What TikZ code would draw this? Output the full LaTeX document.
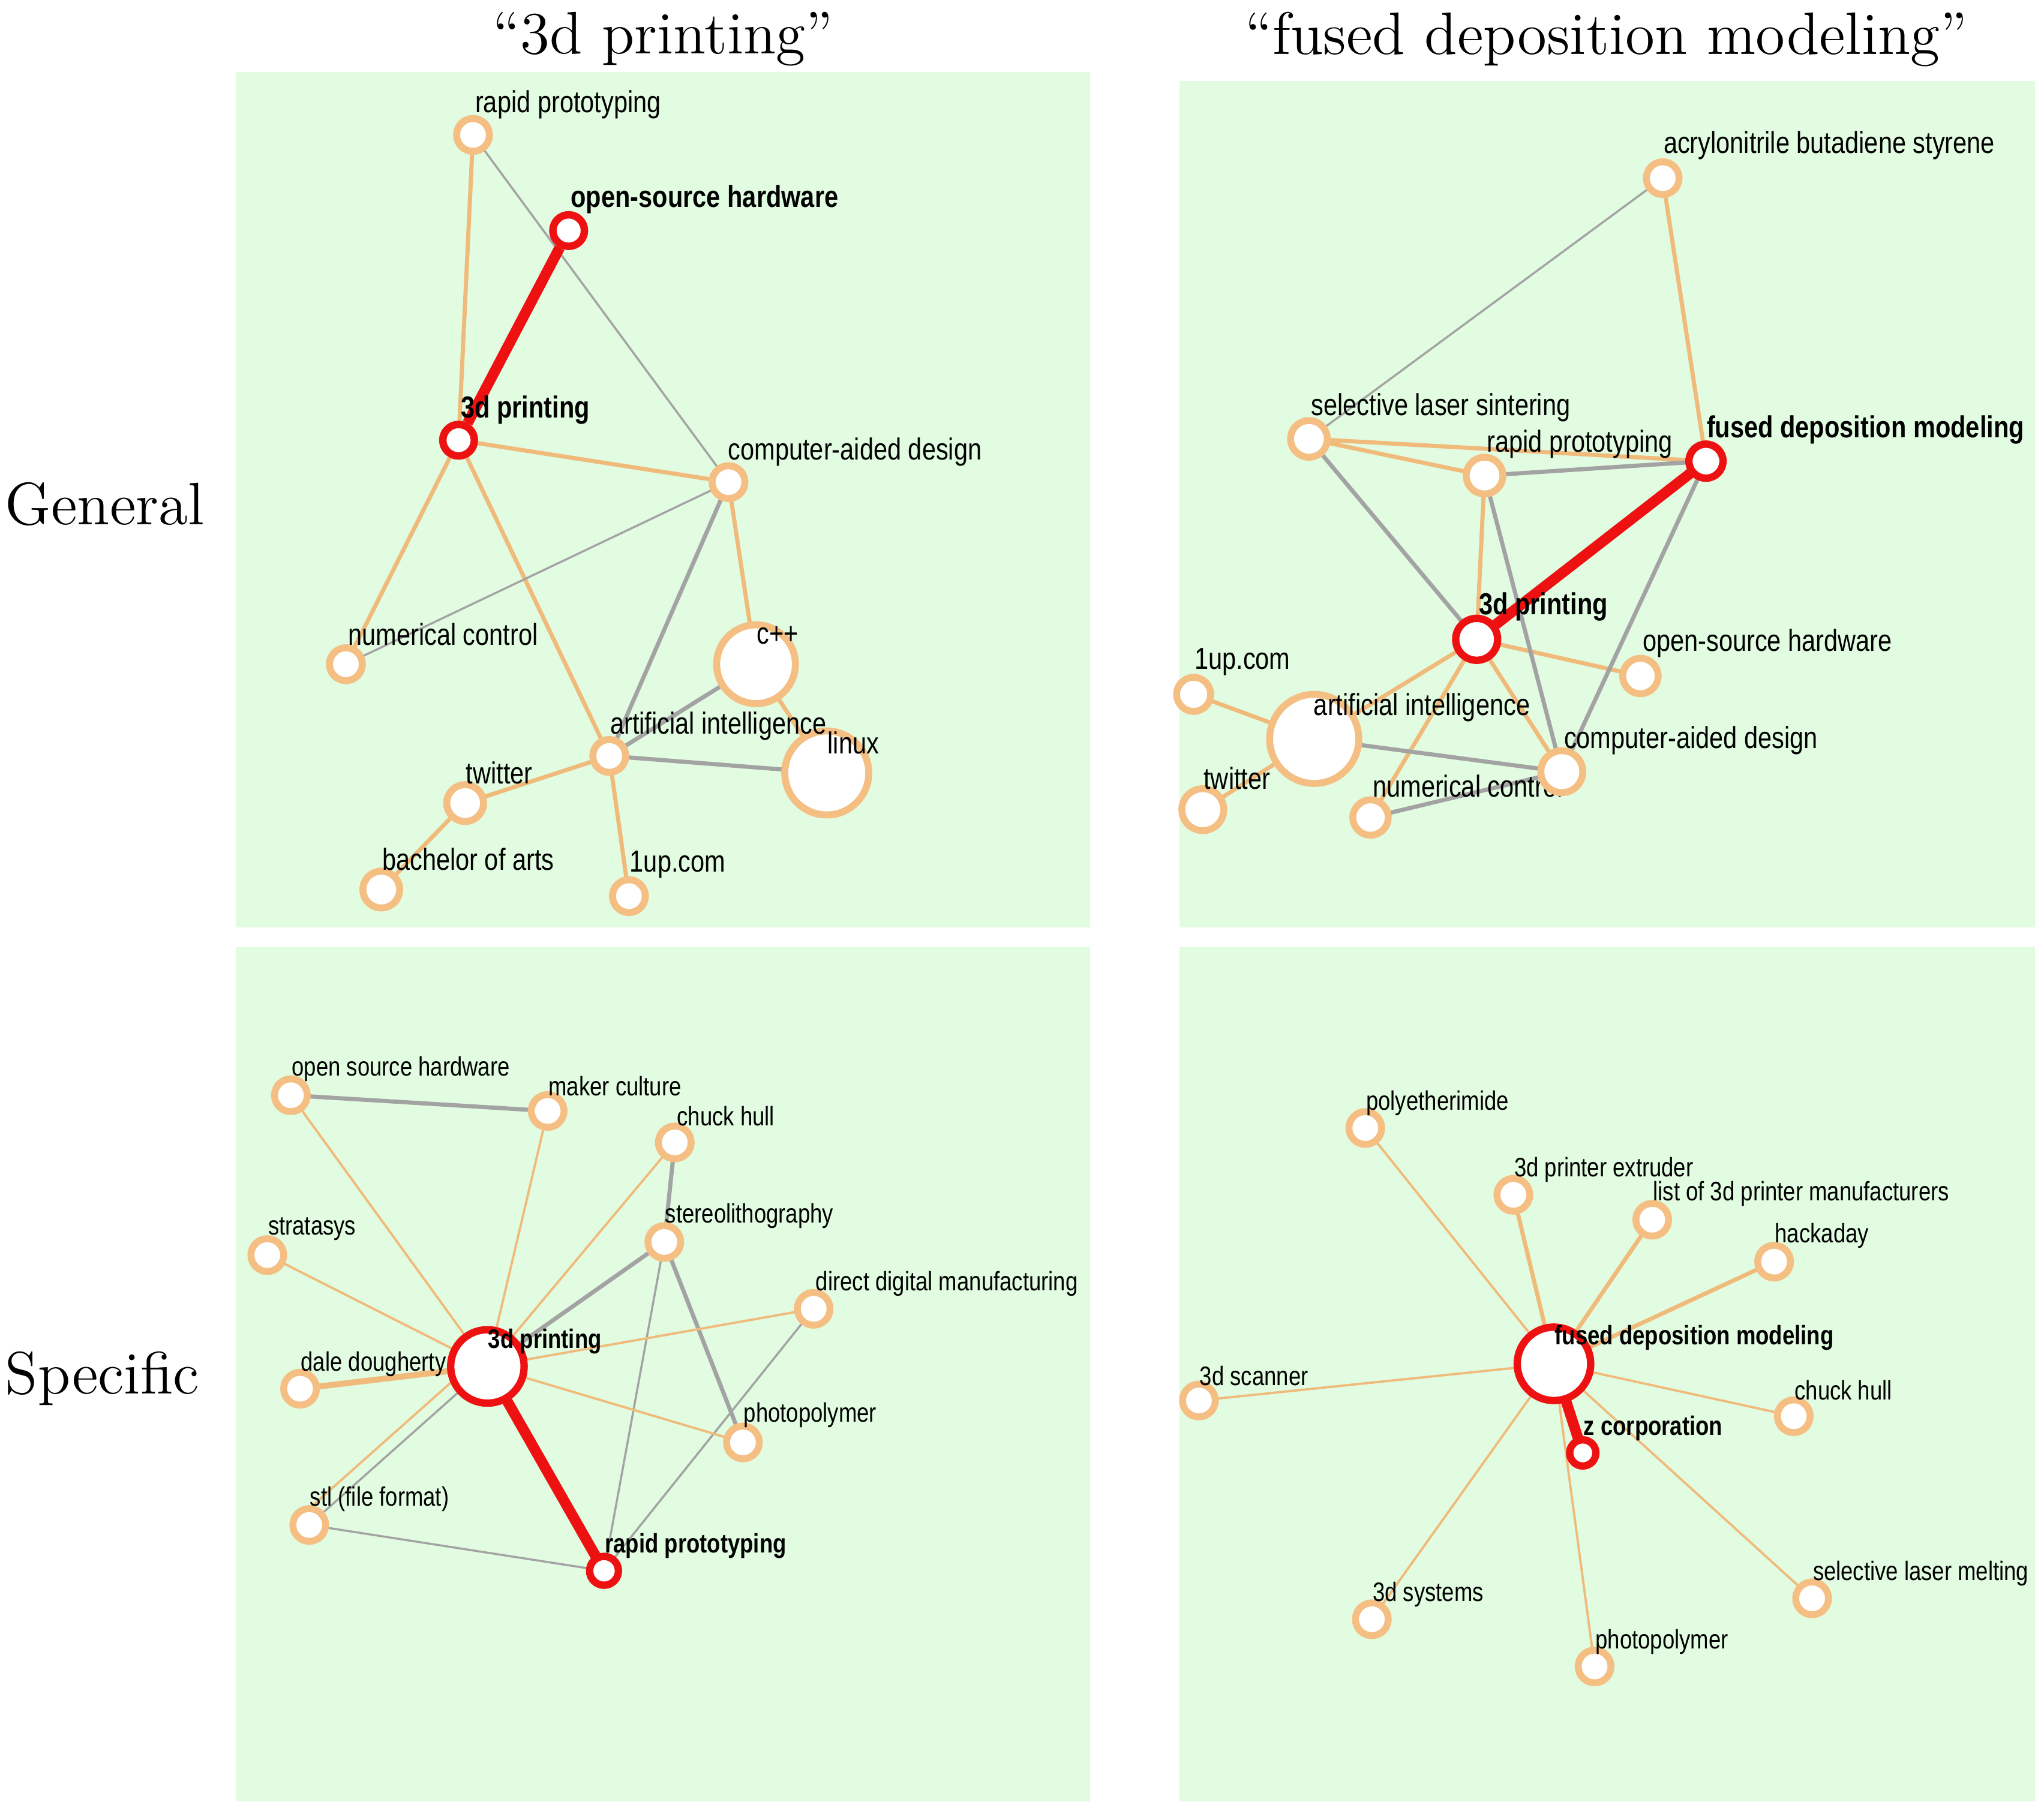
\documentclass[tikz,border=0pt]{standalone}
\usepackage{fontspec}
\newfontfamily\labf{Liberation Sans}[FakeStretch=0.82]
\definecolor{bg}{HTML}{E1FCE1}
\definecolor{orng}{HTML}{F5BE82}
\definecolor{edo}{HTML}{F0BA7A}
\definecolor{edg}{HTML}{A3A3A3}
\definecolor{rd}{HTML}{EE1111}
\tikzset{
 x=0.01cm,y=-0.01cm,
 panel/.style={fill=bg,draw=none},
 nd/.style={circle,draw=orng,line width=1.5pt,fill=white,minimum size=0.25cm,inner sep=0},
 rn/.style={circle,draw=rd,line width=1.6pt,fill=white,minimum size=0.24cm,inner sep=0},
 lab/.style={anchor=west,inner sep=0,font=\labf\fontsize{6.6pt}{7pt}\selectfont},
 blab/.style={lab,font=\labf\bfseries\fontsize{6.6pt}{7pt}\selectfont},
 slab/.style={lab,font=\labf\fontsize{5.8pt}{6pt}\selectfont},
 sblab/.style={lab,font=\labf\bfseries\fontsize{5.8pt}{6pt}\selectfont},
 eo/.style={draw=edo,line width=0.9pt},
 et/.style={draw=edo,line width=0.5pt},
 eg/.style={draw=edg,line width=0.9pt},
 egt/.style={draw=edg,line width=0.45pt},
 er/.style={draw=rd,line width=2.3pt},
 ttl/.style={font=\fontsize{13pt}{15pt}\selectfont},
}
\begin{document}
\begin{tikzpicture}
\useasboundingbox (0,0) rectangle (1560,1382);
\fill[panel] (180,55) rectangle (832,708);
\fill[panel] (900,62) rectangle (1553,708);
\fill[panel] (180,723) rectangle (832,1375);
\fill[panel] (900,723) rectangle (1553,1375);
\node[ttl] (t1) at (506,30) {``3d printing''};
\node[ttl] (t2) at (1226,30) {``fused deposition modeling''};
\node[ttl] (g) at (80,385) {General};
\node[ttl] (s) at (78,1052) {Specific};

% ===== TL
\node[nd] (a-rp) at (361,103) {};
\node[rn] (a-osh) at (434,176) {};
\node[rn] (a-3d) at (350,336) {};
\node[nd] (a-cad) at (556,368) {};
\node[nd] (a-nc) at (264,507) {};
\node[nd,minimum size=0.6cm] (a-cpp) at (577,507) {};
\node[nd] (a-ai) at (465,577) {};
\node[nd,minimum size=0.64cm] (a-lx) at (631,590) {};
\node[nd,minimum size=0.28cm] (a-tw) at (355,613) {};
\node[nd,minimum size=0.28cm] (a-ba) at (291,679) {};
\node[nd] (a-up) at (480,684) {};
\begin{scope}[on background layer/.style={}]
\end{scope}
\path[eo] (a-rp) -- (a-3d) (a-3d) -- (a-cad) (a-3d) -- (a-nc) (a-3d) -- (a-ai) (a-cad) -- (a-cpp) (a-cpp) -- (a-lx) (a-ai) -- (a-tw) (a-tw) -- (a-ba) (a-ai) -- (a-up);
\path[egt] (a-rp) -- (a-cad) (a-nc) -- (a-cad);
\path[eg] (a-cad) -- (a-ai) (a-cpp) -- (a-ai) (a-ai) -- (a-lx);
\path[er] (a-osh) -- (a-3d);
\node[nd] at (a-rp) {}; \node[rn] at (a-osh) {}; \node[rn] at (a-3d) {}; \node[nd] at (a-cad) {}; \node[nd] at (a-nc) {};
\node[nd,minimum size=0.6cm] at (a-cpp) {}; \node[nd] at (a-ai) {}; \node[nd,minimum size=0.64cm] at (a-lx) {};
\node[nd,minimum size=0.28cm] at (a-tw) {}; \node[nd,minimum size=0.28cm] at (a-ba) {}; \node[nd] at (a-up) {};
\node[lab] (al1) at (362,80) {rapid prototyping};
\node[blab] (al2) at (435,152) {open-source hardware};
\node[blab] (al3) at (351,313) {3d printing};
\node[lab] (al4) at (555,345) {computer-aided design};
\node[lab] (al5) at (265,484) {numerical control};
\node[lab] (al6) at (577,485) {c++};
\node[lab] (al7) at (465,554) {artificial intelligence};
\node[lab] (al8) at (631,567) {linux};
\node[lab] (al9) at (355,590) {twitter};
\node[lab] (al10) at (291,656) {bachelor of arts};
\node[lab] (al11) at (480,660) {1up.com};

% ===== TR
\coordinate (b-abs) at (1269,136);
\coordinate (b-sls) at (999,335);
\coordinate (b-rp) at (1133,363);
\coordinate (b-fdm) at (1302,352);
\coordinate (b-3d) at (1127,488);
\coordinate (b-osh) at (1252,516);
\coordinate (b-up) at (911,530);
\coordinate (b-ai) at (1003,564);
\coordinate (b-cad) at (1192,589);
\coordinate (b-tw) at (918,618);
\coordinate (b-nc) at (1046,624);
\path[egt] (b-abs) -- (b-sls);
\path[eo] (b-abs) -- (b-fdm) (b-sls) -- (b-rp) (b-sls) -- (b-fdm) (b-rp) -- (b-3d) (b-3d) -- (b-osh) (b-3d) -- (b-ai) (b-3d) -- (b-nc) (b-3d) -- (b-cad) (b-ai) -- (b-up) (b-ai) -- (b-tw);
\path[eg] (b-sls) -- (b-3d) (b-rp) -- (b-fdm) (b-rp) -- (b-cad) (b-fdm) -- (b-cad) (b-ai) -- (b-cad) (b-nc) -- (b-cad);
\path[er] (b-fdm) -- (b-3d);
\node[lab] (bl10) at (1047,600) {numerical control};
\node[nd] (n-abs) at (b-abs) {};
\node[nd,minimum size=0.28cm] (n-sls) at (b-sls) {};
\node[nd,minimum size=0.28cm] (n-rp) at (b-rp) {};
\node[rn,minimum size=0.26cm] (n-fdm) at (b-fdm) {};
\node[rn,minimum size=0.32cm] (n-3d) at (b-3d) {};
\node[nd,minimum size=0.27cm] (n-osh) at (b-osh) {};
\node[nd,minimum size=0.26cm] (n-up) at (b-up) {};
\node[nd,minimum size=0.68cm] (n-ai) at (b-ai) {};
\node[nd,minimum size=0.32cm] (n-cad) at (b-cad) {};
\node[nd,minimum size=0.32cm] (n-tw) at (b-tw) {};
\node[nd,minimum size=0.27cm] (n-nc) at (b-nc) {};
\node[lab] (bl1) at (1269,111) {acrylonitrile butadiene styrene};
\node[lab] (bl2) at (1000,311) {selective laser sintering};
\node[lab] (bl3) at (1134,339) {rapid prototyping};
\node[blab] (bl4) at (1302,328) {fused deposition modeling};
\node[blab] (bl5) at (1128,463) {3d printing};
\node[lab] (bl6) at (1253,491) {open-source hardware};
\node[lab] (bl7) at (911,505) {1up.com};
\node[lab] (bl8) at (1002,540) {artificial intelligence};
\node[lab] (bl9) at (1193,565) {computer-aided design};
\node[lab] (bl11) at (918,594) {twitter};

% ===== BL
\coordinate (c-osh) at (222,836);
\coordinate (c-mc) at (418,848);
\coordinate (c-ch) at (515,872);
\coordinate (c-st) at (204,958);
\coordinate (c-sl) at (507,948);
\coordinate (c-ddm) at (621,999);
\coordinate (c-3d) at (372,1043);
\coordinate (c-dd) at (229,1060);
\coordinate (c-pp) at (567,1101);
\coordinate (c-stl) at (236,1164);
\coordinate (c-rp) at (461,1199);
\path[eg] (c-osh) -- (c-mc) (c-ch) -- (c-sl) (c-sl) -- (c-3d) (c-sl) -- (c-pp);
\path[egt] (c-sl) -- (c-rp) (c-ddm) -- (c-rp) (c-stl) -- (c-rp) (c-3d) -- (c-stl);
\path[et] (c-osh) -- (c-3d) (c-mc) -- (c-3d) (c-ch) -- (c-3d) (c-st) -- (c-3d) (c-ddm) -- (c-3d) (c-3d) -- (c-pp) ([xshift=-4]c-3d) -- ([xshift=-4]c-stl);
\path[eo,line width=1.3pt] (c-3d) -- (c-dd);
\path[er] (c-3d) -- (c-rp);
\node[nd] (m-osh) at (c-osh) {};
\node[nd] (m-mc) at (c-mc) {};
\node[nd] (m-ch) at (c-ch) {};
\node[nd] (m-st) at (c-st) {};
\node[nd] (m-sl) at (c-sl) {};
\node[nd] (m-ddm) at (c-ddm) {};
\node[rn,minimum size=0.56cm] (m-3d) at (c-3d) {};
\node[nd] (m-dd) at (c-dd) {};
\node[nd] (m-pp) at (c-pp) {};
\node[nd] (m-stl) at (c-stl) {};
\node[rn,minimum size=0.22cm] (m-rp) at (c-rp) {};
\node[slab] (cl1) at (222,816) {open source hardware};
\node[slab] (cl2) at (418,829) {maker culture};
\node[slab] (cl3) at (516,852) {chuck hull};
\node[slab] (cl4) at (204,938) {stratasys};
\node[slab] (cl5) at (507,928) {stereolithography};
\node[slab] (cl6) at (622,980) {direct digital manufacturing};
\node[sblab] (cl7) at (372,1024) {3d printing};
\node[slab] (cl8) at (229,1041) {dale dougherty};
\node[slab] (cl9) at (567,1080) {photopolymer};
\node[slab] (cl10) at (236,1144) {stl (file format)};
\node[sblab] (cl11) at (461,1180) {rapid prototyping};

% ===== BR
\coordinate (d-pe) at (1042,861);
\coordinate (d-ext) at (1155,912);
\coordinate (d-list) at (1261,931);
\coordinate (d-hack) at (1354,963);
\coordinate (d-fdm) at (1186,1041);
\coordinate (d-scan) at (915,1069);
\coordinate (d-ch) at (1369,1081);
\coordinate (d-zc) at (1208,1109);
\coordinate (d-slm) at (1383,1220);
\coordinate (d-sys) at (1047,1236);
\coordinate (d-pp) at (1217,1272);
\path[et] (d-fdm) -- (d-pe) (d-fdm) -- (d-scan) (d-fdm) -- (d-slm) (d-fdm) -- (d-sys) (d-fdm) -- (d-pp) (d-fdm) -- (d-ch);
\path[eo] (d-fdm) -- (d-ext) (d-fdm) -- (d-list) (d-fdm) -- (d-hack);
\path[er] (d-fdm) -- (d-zc);
\node[nd] (k-pe) at (d-pe) {};
\node[nd] (k-ext) at (d-ext) {};
\node[nd] (k-list) at (d-list) {};
\node[nd] (k-hack) at (d-hack) {};
\node[rn,minimum size=0.56cm] (k-fdm) at (d-fdm) {};
\node[nd] (k-scan) at (d-scan) {};
\node[nd] (k-ch) at (d-ch) {};
\node[rn,minimum size=0.2cm] (k-zc) at (d-zc) {};
\node[nd] (k-slm) at (d-slm) {};
\node[nd] (k-sys) at (d-sys) {};
\node[nd] (k-pp) at (d-pp) {};
\node[slab] (dl1) at (1042,842) {polyetherimide};
\node[slab] (dl2) at (1155,893) {3d printer extruder};
\node[slab] (dl3) at (1261,911) {list of 3d printer manufacturers};
\node[slab] (dl4) at (1354,943) {hackaday};
\node[sblab] (dl5) at (1186,1021) {fused deposition modeling};
\node[slab] (dl6) at (915,1050) {3d scanner};
\node[slab] (dl7) at (1369,1061) {chuck hull};
\node[sblab] (dl8) at (1208,1090) {z corporation};
\node[slab] (dl9) at (1383,1201) {selective laser melting};
\node[slab] (dl10) at (1047,1217) {3d systems};
\node[slab] (dl11) at (1217,1253) {photopolymer};
\end{tikzpicture}
\end{document}
